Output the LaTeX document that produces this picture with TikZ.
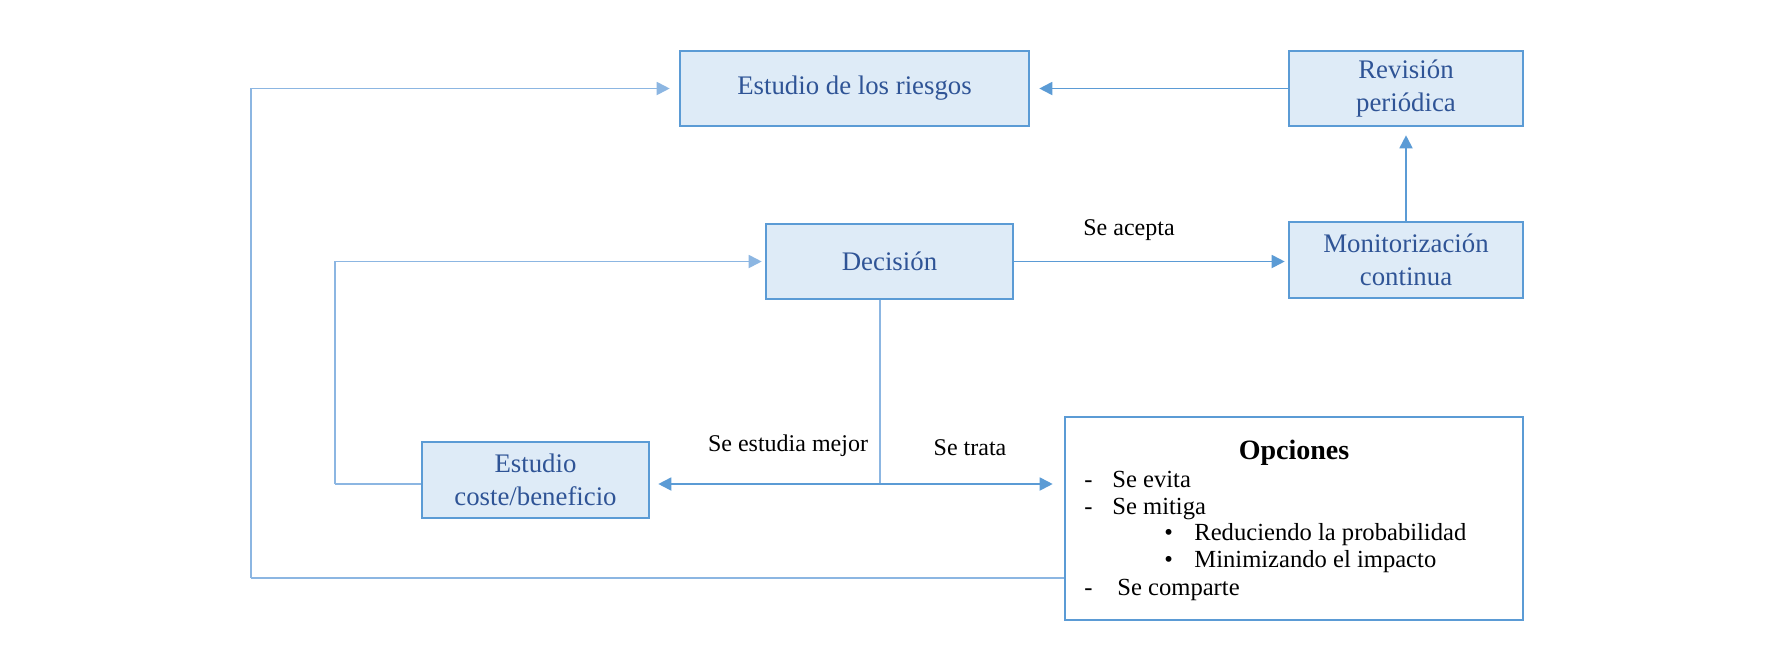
\documentclass[tikz,border=0pt]{standalone}
\usepackage{fontspec}
\setmainfont{Liberation Serif}
\usetikzlibrary{arrows.meta}
\definecolor{boxline}{RGB}{91,155,213}
\definecolor{boxfill}{RGB}{222,235,247}
\definecolor{boxtext}{RGB}{47,84,150}
\definecolor{loopline}{RGB}{140,182,226}
\tikzset{
  stage/.style={draw=boxline, fill=boxfill, line width=1.3pt, text=boxtext, inner sep=0pt,
    align=center, font=\fontsize{13.4}{16.5}\selectfont},
  optbox/.style={draw=boxline, line width=1.3pt, inner sep=0pt},
  flow/.style={draw=boxline, line width=0.9pt, -{Triangle[length=6.5pt,width=6.5pt]}},
  back/.style={draw=loopline, line width=0.9pt},
  lbl/.style={font=\fontsize{12}{14}\selectfont, inner sep=0pt},
  item/.style={font=\fontsize{12.3}{14}\selectfont, inner sep=0pt, anchor=west,
    text height=8.5pt, text depth=2.5pt}
}
\begin{document}
\begin{tikzpicture}[x=0.5pt,y=-0.5pt]
\useasboundingbox (0,0) rectangle (1783,649);
\node[stage, minimum width=174.5pt, minimum height=37.5pt] (riesgos) at (854.5,88.5) {Estudio de los riesgos};
\node[stage, minimum width=117pt, minimum height=37.5pt] (revision) at (1406,88.5) {Revisión\\periódica};
\node[stage, minimum width=123.5pt, minimum height=37.5pt] (decision) at (889.5,261.5) {Decisión};
\node[stage, minimum width=117pt, minimum height=38pt] (monitor) at (1406,260) {Monitorización\\continua};
\node[stage, minimum width=113.5pt, minimum height=38pt] (coste) at (535.5,480) {Estudio\\coste/beneficio};
\node[optbox, minimum width=229pt, minimum height=101.5pt] (opciones) at (1294,518.5) {};
\node[font=\bfseries\fontsize{14}{16}\selectfont, inner sep=0pt] (titulo) at (1294,452.5) {Opciones};
\node[item] (guion1) at (1084,481) {-};
\node[item] (evita) at (1112,481) {Se evita};
\node[item] (guion2) at (1084,508) {-};
\node[item] (mitiga) at (1112,508) {Se mitiga};
\node[item] (punto1) at (1164,534.5) {•};
\node[item] (reduce) at (1194,534.5) {Reduciendo la probabilidad};
\node[item] (punto2) at (1164,561.5) {•};
\node[item] (minimiza) at (1194,561.5) {Minimizando el impacto};
\node[item] (guion3) at (1084,589) {-};
\node[item] (comparte) at (1117,589) {Se comparte};
\node[lbl] (acepta) at (1129,230) {Se acepta};
\node[lbl] (mejor) at (788,446) {Se estudia mejor};
\node[lbl] (trata) at (970,448) {Se trata};
\coordinate (split) at (880,484);
\coordinate (leftloop) at (335,484);
\coordinate (outer) at (251,578);
\draw[flow, shorten >=4.5pt] (revision.west) -- (riesgos.east);
\draw[flow, shorten >=4pt] (monitor.north) -- (revision.south);
\draw[flow, shorten >=1.5pt] (decision.east) -- (decision.east -| monitor.west);
\draw[back] (decision.south -| split) -- (split);
\draw[flow, shorten >=4pt] (split) -- (split -| coste.east);
\draw[flow, shorten >=5.5pt] (split) -- (split -| opciones.west);
\draw[back] (split -| coste.west) -- (leftloop);
\draw[flow, draw=loopline, shorten >=1.5pt] (leftloop) |- (decision.west);
\draw[back] (outer -| opciones.west) -- (outer);
\draw[flow, draw=loopline, shorten >=4.5pt] (outer) |- (riesgos.west);
\end{tikzpicture}
\end{document}
